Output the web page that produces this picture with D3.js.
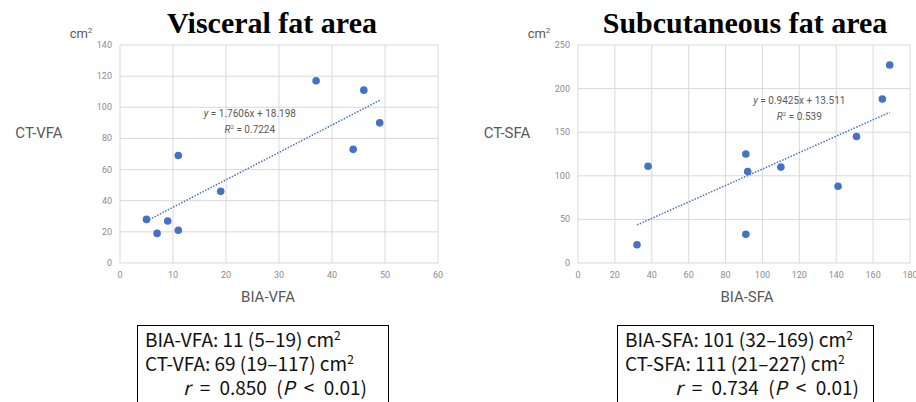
<!DOCTYPE html>
<html>
<head>
<meta charset="utf-8">
<script src="https://cdn.jsdelivr.net/npm/d3@7"></script>
<style>
  body { margin: 0; background: #fff; }
  svg { display: block; }
</style>
</head>
<body>
<div id="chart"></div>
<script>
// Visceral fat area data (BIA vs CT)
const vfaBIA = [5, 7, 9, 11, 11, 19, 37, 44, 46, 49];
const vfaCT = [28, 19, 27, 21, 69, 46, 117, 73, 111, 90];
const vfaXTicks = [0, 10, 20, 30, 40, 50, 60];
const vfaYTicks = [0, 20, 40, 60, 80, 100, 120, 140];
const vfaFit = [1.7606, 18.198];

// Subcutaneous fat area data (BIA vs CT)
const sfaBIA = [32, 38, 91, 92, 91, 110, 141, 151, 165, 169];
const sfaCT = [21, 111, 125, 105, 33, 110, 88, 145, 188, 227];
const sfaXTicks = [0, 20, 40, 60, 80, 100, 120, 140, 160, 180];
const sfaYTicks = [0, 50, 100, 150, 200, 250];
const sfaFit = [0.9425, 13.511];

const width = 916;
const height = 402;

const svg = d3.select("#chart")
    .append("svg")
    .attr("width", width)
    .attr("height", height);

const blue = "#4472C4";
const gridColor = "#d9d9d9";
const tickColor = "#8c8c8c";
const labelColor = "#595959";

function drawPanel(cfg) {
    const x = d3.scaleLinear().domain(cfg.xDomain).range(cfg.xRange);
    const y = d3.scaleLinear().domain(cfg.yDomain).range(cfg.yRange);
    const g = svg.append("g");

    // grid
    g.selectAll(".vg").data(cfg.xTicks).enter().append("line")
        .attr("x1", d => x(d)).attr("x2", d => x(d))
        .attr("y1", y.range()[0]).attr("y2", y.range()[1])
        .attr("stroke", gridColor).attr("stroke-width", 1);
    g.selectAll(".hg").data(cfg.yTicks).enter().append("line")
        .attr("x1", x.range()[0]).attr("x2", x.range()[1])
        .attr("y1", d => y(d)).attr("y2", d => y(d))
        .attr("stroke", gridColor).attr("stroke-width", 1);

    // tick labels
    g.selectAll(".xt").data(cfg.xTicks).enter().append("text")
        .attr("x", d => x(d)).attr("y", y.range()[0] + 15)
        .attr("text-anchor", "middle")
        .attr("font-family", "Roboto, sans-serif").attr("font-size", 9)
        .attr("fill", tickColor).text(d => d);
    g.selectAll(".yt").data(cfg.yTicks).enter().append("text")
        .attr("x", x.range()[0] - 8).attr("y", d => y(d) + 3)
        .attr("text-anchor", "end")
        .attr("font-family", "Roboto, sans-serif").attr("font-size", 9)
        .attr("fill", tickColor).text(d => d);

    // trend line
    const [m, b] = cfg.fit;
    const x0 = d3.min(cfg.xs), x1 = d3.max(cfg.xs);
    g.append("line")
        .attr("x1", x(x0)).attr("y1", y(m * x0 + b))
        .attr("x2", x(x1)).attr("y2", y(m * x1 + b))
        .attr("stroke", blue).attr("stroke-width", 1.5)
        .attr("stroke-dasharray", "1.5,1.5");

    // points
    g.selectAll("circle").data(cfg.xs.map((d, i) => [d, cfg.ys[i]]))
        .enter().append("circle")
        .attr("cx", d => x(d[0])).attr("cy", d => y(d[1]))
        .attr("r", 3.8).attr("fill", blue);

    // equation
    const eq = g.append("text")
        .attr("x", x(cfg.eqAt[0])).attr("y", y(cfg.eqAt[1]))
        .attr("text-anchor", "middle")
        .attr("font-family", "Roboto, sans-serif").attr("font-size", 10)
        .attr("fill", labelColor);
    eq.append("tspan").attr("font-style", "italic").text("y");
    eq.append("tspan").text(` = ${cfg.fit[0]}x + ${cfg.fit[1]}`);
    const r2 = g.append("text")
        .attr("x", x(cfg.eqAt[0])).attr("y", y(cfg.eqAt[1]) + 16)
        .attr("text-anchor", "middle")
        .attr("font-family", "Roboto, sans-serif").attr("font-size", 10)
        .attr("fill", labelColor);
    r2.append("tspan").attr("font-style", "italic").text("R");
    r2.append("tspan").attr("font-size", 6).attr("dy", -4).text("2");
    r2.append("tspan").attr("dy", 4).text(` = ${cfg.r2}`);

    // axis titles
    g.append("text")
        .attr("x", cfg.xTitleX).attr("y", 302)
        .attr("text-anchor", "middle")
        .attr("font-family", "Roboto, sans-serif").attr("font-size", 15)
        .attr("fill", labelColor).text(cfg.xTitle);
    g.append("text")
        .attr("x", cfg.yTitleX).attr("y", 138)
        .attr("text-anchor", "middle")
        .attr("font-family", "Roboto, sans-serif").attr("font-size", 15)
        .attr("fill", labelColor).text(cfg.yTitle);
    const unit = g.append("text")
        .attr("x", cfg.unitX).attr("y", 38)
        .attr("text-anchor", "middle")
        .attr("font-family", "Roboto, sans-serif").attr("font-size", 13)
        .attr("fill", labelColor);
    unit.append("tspan").text("cm");
    unit.append("tspan").attr("font-size", 8).attr("dy", -5).text("2");

    // title
    svg.append("text")
        .attr("x", cfg.titleX).attr("y", 33)
        .attr("text-anchor", "middle")
        .attr("font-family", "'Liberation Serif', 'DejaVu Serif', serif")
        .attr("font-weight", "bold").attr("font-size", 30)
        .attr("fill", "#000").text(cfg.title);

    // summary box
    const bx = cfg.box[0], bw = cfg.box[1];
    svg.append("rect")
        .attr("x", bx + 0.5).attr("y", 325.5)
        .attr("width", bw).attr("height", 90)
        .attr("fill", "none").attr("stroke", "#000").attr("stroke-width", 1);
    const boxFont = "'Noto Sans CJK JP', 'Noto Sans', sans-serif";
    cfg.lines.forEach((ln, i) => {
        const t = svg.append("text")
            .attr("x", bx + 8).attr("y", 347 + i * 24)
            .attr("font-family", boxFont).attr("font-size", 19)
            .attr("fill", "#111");
        t.append("tspan").text(ln + " cm");
        t.append("tspan").attr("font-size", 12).attr("dy", -7).text("2");
    });
    const rl = svg.append("text")
        .attr("x", bx + cfg.rOffset).attr("y", 395)
        .attr("font-family", boxFont).attr("font-size", 19)
        .style("word-spacing", "5px")
        .attr("fill", "#111");
    rl.append("tspan").attr("font-style", "italic").text("r");
    rl.append("tspan").text(` = ${cfg.r} (`);
    rl.append("tspan").attr("font-style", "italic").text("P");
    rl.append("tspan").text(" < 0.01)");
}

drawPanel({
    xs: vfaBIA, ys: vfaCT, xTicks: vfaXTicks, yTicks: vfaYTicks, fit: vfaFit,
    xDomain: [0, 60], yDomain: [0, 140],
    xRange: [120, 438], yRange: [263, 45],
    eqAt: [24.5, 94], r2: "0.7224",
    xTitle: "BIA-VFA", xTitleX: 268, yTitle: "CT-VFA", yTitleX: 39, unitX: 81,
    title: "Visceral fat area", titleX: 272,
    box: [137, 251], rOffset: 46,
    lines: ["BIA-VFA: 11 (5–19)", "CT-VFA: 69 (19–117)"],
    r: "0.850"
});

drawPanel({
    xs: sfaBIA, ys: sfaCT, xTicks: sfaXTicks, yTicks: sfaYTicks, fit: sfaFit,
    xDomain: [0, 180], yDomain: [0, 250],
    xRange: [578, 910], yRange: [263, 45],
    eqAt: [120, 182], r2: "0.539",
    xTitle: "BIA-SFA", xTitleX: 747, yTitle: "CT-SFA", yTitleX: 507, unitX: 539,
    title: "Subcutaneous fat area", titleX: 745,
    box: [617, 256], rOffset: 58,
    lines: ["BIA-SFA: 101 (32–169)", "CT-SFA: 111 (21–227)"],
    r: "0.734"
});
</script>
</body>
</html>
